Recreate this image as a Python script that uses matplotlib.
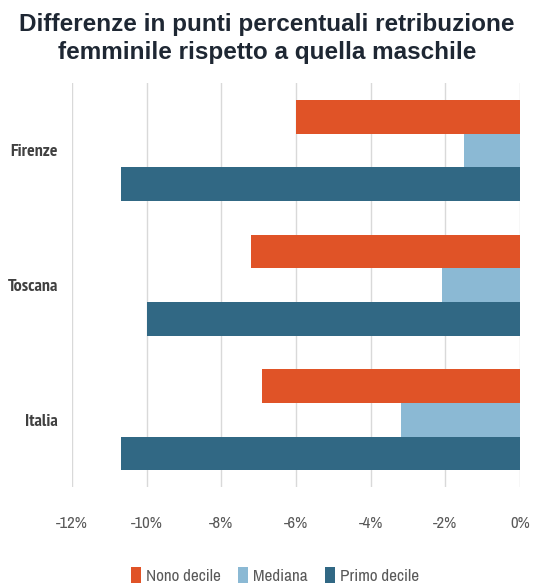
import matplotlib
matplotlib.use("Agg")
import matplotlib.pyplot as plt
import numpy as np
from matplotlib import font_manager
from matplotlib.font_manager import FontProperties

def find_font(bold=False):
    cands = []
    for f in font_manager.fontManager.ttflist:
        fn = f.fname.lower()
        if ("condensed" in fn or "narrow" in fn) and "italic" not in fn and "oblique" not in fn:
            isbold = ("bold" in fn) or (f.weight in ("bold", 700) if isinstance(f.weight, (str, int)) else False)
            if isbold == bold and "semi" not in fn and "light" not in fn and "extra" not in fn and "black" not in fn and "medium" not in fn and "thin" not in fn:
                cands.append(f.fname)
    cands.sort(key=lambda s: (0 if "narrow" in s.lower() else 1 if "roboto" in s.lower() else 2, s))
    return cands[0] if cands else None

reg = find_font(False)
bld = find_font(True)
fp_reg = FontProperties(fname=reg, size=12) if reg else FontProperties(family="DejaVu Sans", size=10.5)
fp_leg = FontProperties(fname=reg, size=12.3) if reg else FontProperties(family="DejaVu Sans", size=11)
fp_bld = FontProperties(fname=bld, size=13) if bld else FontProperties(family="DejaVu Sans", weight="bold", size=11)

categories = ["Firenze", "Toscana", "Italia"]
series = ["Nono decile", "Mediana", "Primo decile"]
nono = [-6.0, -7.2, -6.9]
mediana = [-1.5, -2.1, -3.2]
primo = [-10.7, -10.0, -10.7]
xticks = [-12, -10, -8, -6, -4, -2, 0]
colors = ["#E05327", "#8BB9D4", "#316884"]

fig = plt.figure(figsize=(5.34, 5.86), dpi=100)
ax = fig.add_axes([72/534, 1-487/586, 448/534, 404/586])

y = np.arange(len(categories))
h = 0.25
for i, (vals, name, c) in enumerate(zip([nono, mediana, primo], series, colors)):
    ax.barh(y + (i - 1) * h, vals, height=h, color=c, label=name, zorder=2)

ax.set_xlim(-12, 0)
ax.set_ylim(2.5, -0.5)
ax.set_xticks(xticks)
ax.set_xticklabels([f"{t}%" for t in xticks], fontproperties=fp_reg, color="#595959")
ax.set_yticks(y)
ax.set_yticklabels(categories, fontproperties=fp_bld, color="#404040")
ax.tick_params(axis="both", length=0)
ax.tick_params(axis="x", pad=21)
ax.tick_params(axis="y", pad=10)
ax.grid(axis="x", color="#D9D9D9", linewidth=1, zorder=0)
for s in ax.spines.values():
    s.set_visible(False)

fig.text(0.5, 0.978, "Differenze in punti percentuali retribuzione\nfemminile rispetto a quella maschile",
         ha="center", va="top", fontsize=17.5, fontweight="bold", color="#1E2733",
         fontfamily="Liberation Sans", linespacing=1.3)

leg = fig.legend(loc="lower center", bbox_to_anchor=(0.515, -0.022), ncol=3, frameon=False,
                 prop=fp_leg, handlelength=0.6, handleheight=1.1,
                 handletextpad=0.3, columnspacing=1.0)
for t in leg.get_texts():
    t.set_color("#595959")

fig.savefig("out.png", dpi=100)
